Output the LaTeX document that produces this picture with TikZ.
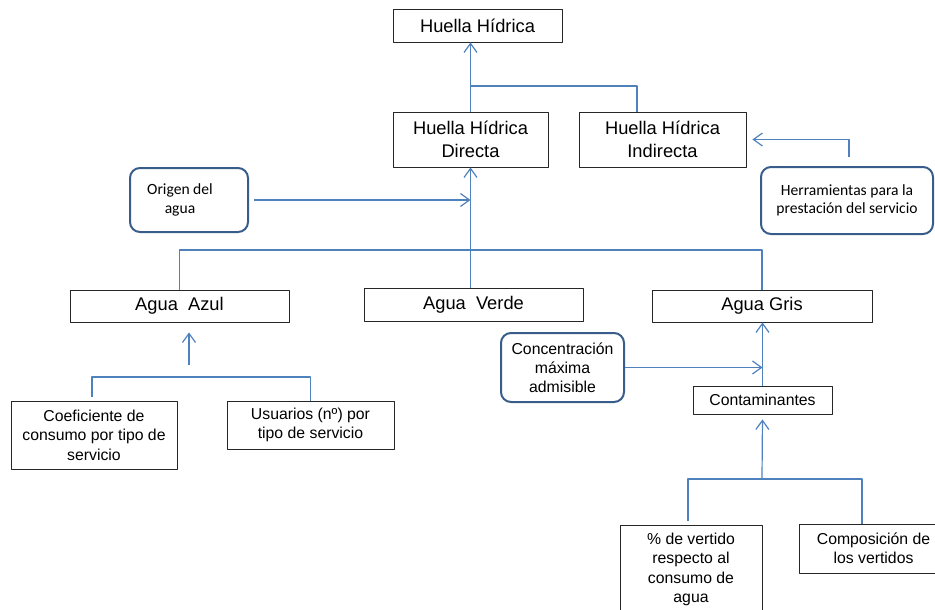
\documentclass[tikz,border=0pt]{standalone}
\usepackage{fontspec}
\setmainfont{Liberation Sans}
\newfontfamily\calib{Carlito}
\usetikzlibrary{arrows.meta}
\definecolor{linkblue}{HTML}{4F81BD}
\definecolor{roundblue}{HTML}{385D8A}
\begin{document}
\begin{tikzpicture}[x=1pt,y=-1pt,line join=round,
	box/.style={draw=black!85,line width=0.9pt,inner sep=0pt,align=center,font=\fontsize{18.3}{23}\selectfont},
	smallbox/.style={box,font=\fontsize{15.8}{19.5}\selectfont},
	roundbox/.style={draw=roundblue,line width=2pt,rounded corners=10pt,inner sep=0pt,align=center,font=\calib\fontsize{15.6}{18.5}\selectfont},
	link/.style={draw=linkblue,line width=1.2pt},
	arr/.style={link,-{Straight Barb[length=9pt,width=13pt]}}]
	\useasboundingbox (0,0) rectangle (935,610);
	\clip (0,0) rectangle (935,610);
	\node[box,minimum width=169pt,minimum height=33pt] (hh) at (477.5,25.5) {Huella Hídrica};
	\node[box,minimum width=155pt,minimum height=55pt] (dir) at (470.5,139.5) {Huella Hídrica\\Directa};
	\node[box,minimum width=167pt,minimum height=55pt] (ind) at (662.5,139.5) {Huella Hídrica\\Indirecta};
	\node[roundbox,minimum width=172pt,minimum height=67pt] (herr) at (847,200.5) {Herramientas para la\\prestación del servicio};
	\node[roundbox,minimum width=118pt,minimum height=64pt] (orig) at (189,200) {Origen del\hspace*{18pt}\\agua\hspace*{18pt}};
	\node[box,minimum width=219pt,minimum height=32pt] (azul) at (179.5,306) {Agua~~Azul};
	\node[box,minimum width=219pt,minimum height=33pt] (verde) at (473.5,304.5) {Agua~~Verde};
	\node[box,minimum width=220pt,minimum height=32pt] (gris) at (762,306) {Agua Gris};
	\node[roundbox,font=\fontsize{15.8}{19}\selectfont,minimum width=123pt,minimum height=69pt] (conc) at (562.5,367.5) {Concentración\\máxima\\admisible};
	\node[smallbox,minimum width=139pt,minimum height=28pt] (cont) at (762.5,400) {Contaminantes};
	\node[smallbox,minimum width=166pt,minimum height=68pt] (coef) at (94,435) {Coeficiente de\\consumo por tipo de\\servicio};
	\node[smallbox,minimum width=167pt,minimum height=48pt] (usu) at (310.5,425) {Usuarios (nº) por\\tipo de servicio};
	\node[smallbox,minimum width=142pt,minimum height=89pt] (pct) at (691,569.5) {\% de vertido\\respecto al\\consumo de\\agua};
	\node[smallbox,minimum width=149pt,minimum height=49pt] (comp) at (873.5,548.5) {Composición de\\los vertidos};
	\coordinate (jhh) at (471,86);
	\coordinate (jtop) at (471,250);
	\coordinate (jazul) at (189,377);
	\coordinate (jcont) at (762,479);
	\draw[arr] (dir.north) -- (dir.north |- hh.south);
	\draw[link] ([xshift=-25.5pt]ind.north) |- (jhh);
	\draw[arr,shorten <=9pt,shorten >=6pt] ([xshift=2pt]herr.north) |- (ind.east);
	\draw[arr,shorten <=5pt] (orig.east) -- (orig.east -| dir.south);
	\draw[arr] (dir.south |- verde.north) -- (dir.south);
	\draw[link] (azul.north) |- (jtop) -| (gris.north);
	\draw[arr,shorten <=12pt,shorten >=10pt] (jazul) -- (jazul |- azul.south);
	\draw[link,shorten <=4pt] ([xshift=-2pt]coef.north) |- (jazul) -| (usu.north);
	\draw[arr] (cont.north) -- (cont.north |- gris.south);
	\draw[arr] (conc.east) -- (conc.east -| cont.north);
	\draw[arr,shorten >=5pt] (jcont) -- (cont.south);
	\draw[link,shorten <=4pt] ([xshift=-3pt]pct.north) |- (jcont) -| ([xshift=-11.5pt]comp.north);
\end{tikzpicture}
\end{document}
